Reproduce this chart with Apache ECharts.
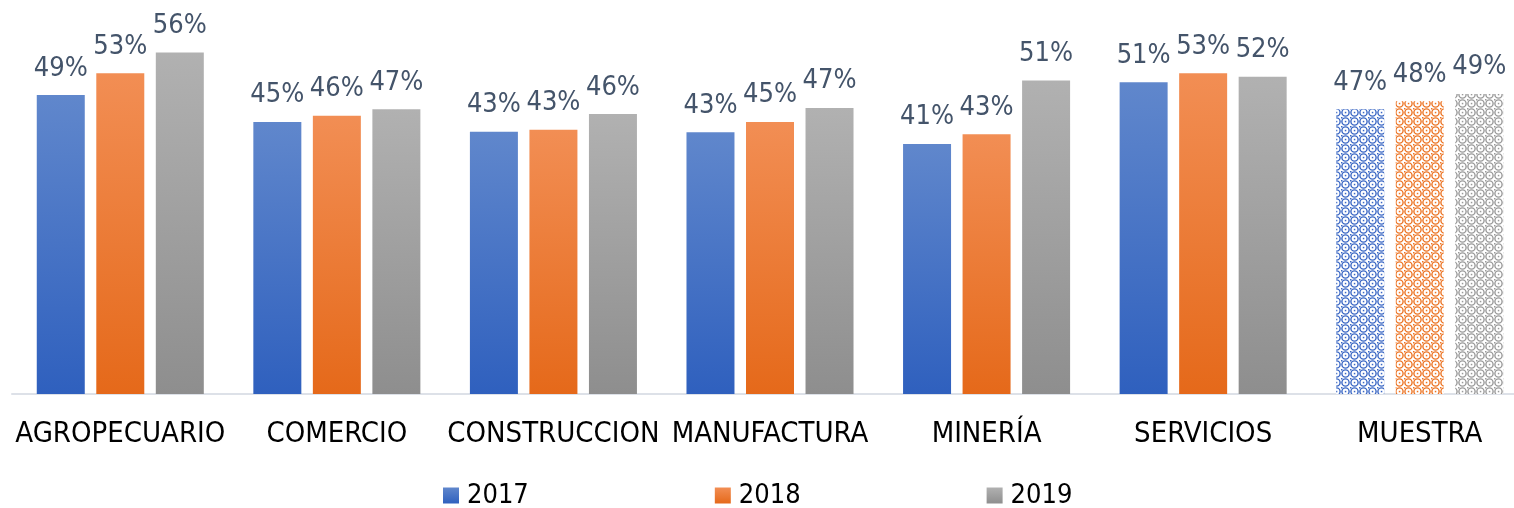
<!DOCTYPE html>
<html>
<head>
<meta charset="utf-8">
<script src="https://cdn.jsdelivr.net/npm/echarts@6/dist/echarts.min.js"></script>
<style>
html,body{margin:0;padding:0;background:#fff;}
#chart{width:1514px;height:508px;}
</style>
</head>
<body>
<div id="chart"></div>
<script>
const categories = ['AGROPECUARIO','COMERCIO','CONSTRUCCION','MANUFACTURA','MINERÍA','SERVICIOS','MUESTRA'];
const seriesNames = ['2017','2018','2019'];
const v2017 = [49.0, 44.6, 43.0, 42.9, 41.0, 51.1, 46.7];
const v2018 = [52.6, 45.6, 43.3, 44.6, 42.6, 52.6, 48.0];
const v2019 = [56.0, 46.7, 45.9, 46.9, 51.4, 52.0, 49.2];

const FONT = '"DejaVu Sans Condensed", "DejaVu Sans", sans-serif';
const gradients = [
  ['#6087cc', '#2f60be'],
  ['#f28e54', '#e5691a'],
  ['#b1b1b1', '#8e8e8e']
];
const patternColors = ['#3a67c4', '#ec7424', '#9a9a9a'];

function makePattern(color) {
  const c = document.createElement('canvas');
  c.width = 9; c.height = 9;
  const g = c.getContext('2d');
  g.fillStyle = '#ffffff';
  g.fillRect(0, 0, 9, 9);
  g.strokeStyle = color;
  g.lineWidth = 1.4;
  g.beginPath();
  g.arc(4.5, 4.5, 3.6, 0, Math.PI * 2);
  g.stroke();
  g.fillStyle = color;
  g.fillRect(0, 0, 1.5, 1.5);
  g.fillRect(3.8, 3.8, 1.5, 1.5);
  return c;
}

function grad(i) {
  return new echarts.graphic.LinearGradient(0, 0, 0, 1, [
    {offset: 0, color: gradients[i][0]},
    {offset: 1, color: gradients[i][1]}
  ]);
}

const allValues = [v2017, v2018, v2019];
const series = allValues.map((vals, i) => ({
  name: seriesNames[i],
  type: 'bar',
  barWidth: 48,
  barGap: '24%',
  itemStyle: {color: grad(i)},
  label: {
    show: true,
    position: 'top',
    distance: 13,
    color: '#44546A',
    fontFamily: FONT,
    fontSize: 27,
    formatter: p => Math.round(p.value) + '%'
  },
  data: vals.map((v, k) => {
    if (categories[k] === 'MUESTRA') {
      return {value: v, itemStyle: {color: {image: makePattern(patternColors[i]), repeat: 'repeat'}}};
    }
    return v;
  })
}));

const chart = echarts.init(document.getElementById('chart'), null, {renderer: 'canvas'});
chart.setOption({
  animation: false,
  backgroundColor: '#ffffff',
  grid: {left: 12, width: 1516, top: 28, bottom: 114, containLabel: false, outerBoundsMode: 'none'},
  legend: {
    data: seriesNames,
    left: 443,
    top: 482,
    padding: 0,
    itemWidth: 16,
    itemHeight: 16,
    itemGap: 186,
    icon: 'rect',
    textStyle: {fontFamily: FONT, fontSize: 27, color: '#000000', lineHeight: 27, padding: [0, 0, 0, 3]}
  },
  xAxis: {
    type: 'category',
    data: categories,
    axisTick: {show: false},
    axisLine: {lineStyle: {color: '#dde1e8', width: 2}},
    axisLabel: {
      interval: 0,
      margin: 26,
      color: '#000000',
      fontFamily: FONT,
      fontSize: 29,
      lineHeight: 29
    }
  },
  yAxis: {
    type: 'value',
    min: 0,
    max: 60,
    show: false,
    splitLine: {show: false}
  },
  series: series
});
</script>
</body>
</html>
